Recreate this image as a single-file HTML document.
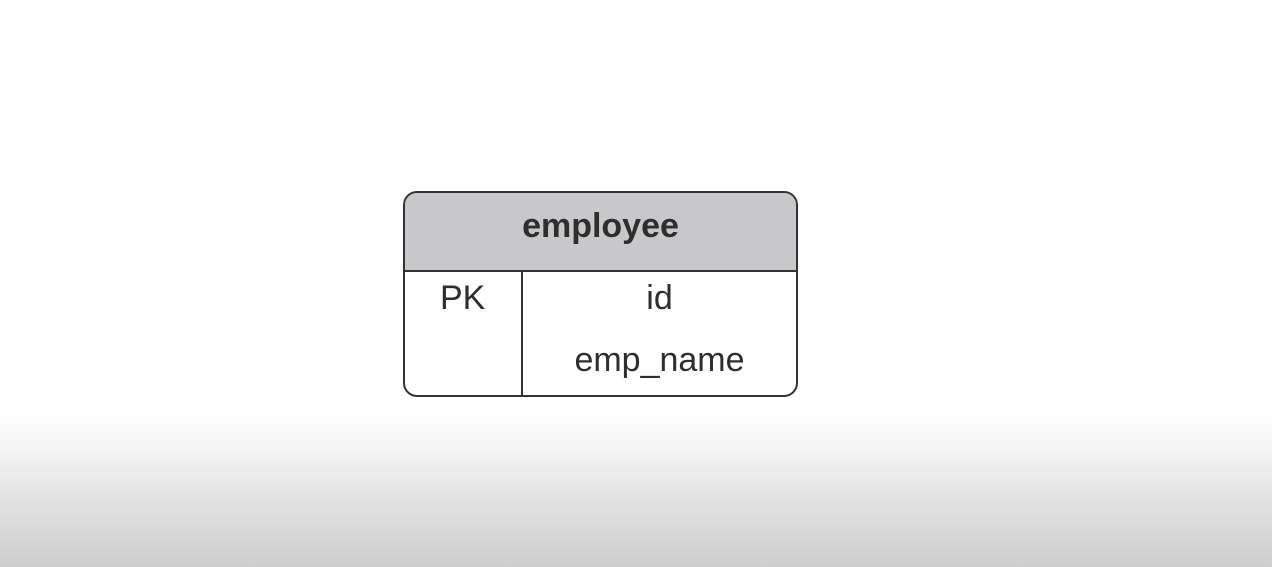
<!DOCTYPE html>
<html><head><style>
html,body{margin:0;padding:0}
body{width:1272px;height:567px;position:relative;overflow:hidden;background:linear-gradient(to bottom,#fff 0,#fff 410px,#f4f4f4 450px,#e2e2e2 500px,#cecece 567px);font-family:"Liberation Sans",sans-serif;color:#2e2e2e}
.box{position:absolute;left:403px;top:191px;width:391px;height:202px;border:2px solid #333;border-radius:14px;overflow:hidden;background:#fff}
.hdr{position:absolute;left:0;top:0;width:100%;height:77px;background:#c8c7c9;border-bottom:2px solid #333}
.hdr span{position:absolute;left:0;right:0;top:16px;text-align:center;font-weight:bold;font-size:34px;line-height:1}
.div{position:absolute;left:116px;top:79px;width:2px;height:130px;background:#333}
.t{position:absolute;font-size:34px;line-height:1}
</style></head><body>
<div class="box">
<div class="hdr"><span>employee</span></div>
<div class="div"></div>
<div class="t" style="left:35px;top:88px">PK</div>
<div class="t" style="left:118px;width:273px;text-align:center;top:88px">id</div>
<div class="t" style="left:118px;width:273px;text-align:center;top:150px">emp_name</div>
</div>
</body></html>
